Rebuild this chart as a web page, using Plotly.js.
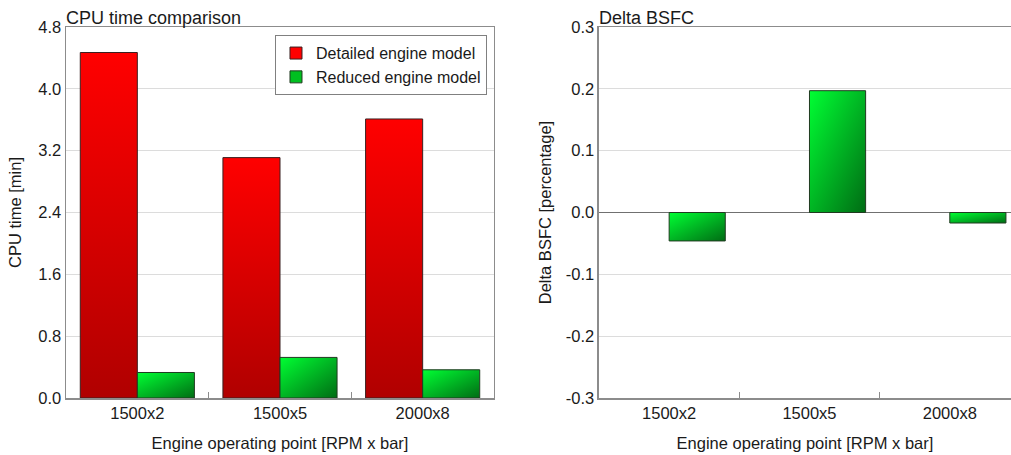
<!DOCTYPE html>
<html>
<head>
<meta charset="utf-8">
<script src="https://cdn.plot.ly/plotly-3.0.1.min.js"></script>
<style>
html,body{margin:0;padding:0;background:#fff;}
#chart{width:1011px;height:455px;}
</style>
</head>
<body>
<div id="chart"></div>
<script>
// ---- data ----
const categories = ["1500x2", "1500x5", "2000x8"];
const detailedCpu = [4.47, 3.11, 3.61];
const reducedCpu = [0.33, 0.525, 0.365];
const deltaBsfc = [-0.046, 0.197, -0.017];
const cpuTicks = [0, 0.8, 1.6, 2.4, 3.2, 4.0, 4.8];
const cpuTickText = ["0.0", "0.8", "1.6", "2.4", "3.2", "4.0", "4.8"];
const bsfcTicks = [-0.3, -0.2, -0.1, 0, 0.1, 0.2, 0.3];
const bsfcTickText = ["-0.3", "-0.2", "-0.1", "0.0", "0.1", "0.2", "0.3"];

const FONT = "Liberation Sans, Arial, sans-serif";
const TXT = "#1a1a1a";
const AX = "#8c8c8c";
const GRID = "#dcdcdc";
const FS = 16.5;

const traces = [
  {type: "bar", x: categories, y: detailedCpu, name: "Detailed engine model",
   xaxis: "x", yaxis: "y", offset: -0.4, width: 0.4,
   marker: {color: "#ff0000", line: {color: "#3a2020", width: 1}}},
  {type: "bar", x: categories, y: reducedCpu, name: "Reduced engine model",
   xaxis: "x", yaxis: "y", offset: 0, width: 0.4,
   marker: {color: "#00c020", line: {color: "#203a20", width: 1}}},
  {type: "bar", x: categories, y: deltaBsfc, name: "Delta BSFC", showlegend: false,
   xaxis: "x2", yaxis: "y2", offset: 0, width: 0.4,
   marker: {color: "#00c020", line: {color: "#203a20", width: 1}}}
];

const xCommon = {
  type: "category", showline: true, linecolor: AX, linewidth: 1.5, mirror: true,
  ticks: "inside", tickson: "boundaries", ticklen: 6, tickcolor: AX, tickwidth: 1,
  showgrid: false, zeroline: false,
  tickfont: {family: FONT, size: FS, color: TXT},
  title: {text: "Engine operating point [RPM x bar]", font: {family: FONT, size: FS, color: TXT}, standoff: 16}
};
const layout = {
  width: 1011, height: 455,
  margin: {l: 66, r: 0, t: 27, b: 57},
  paper_bgcolor: "#ffffff", plot_bgcolor: "#ffffff",
  font: {family: FONT, size: FS, color: TXT},
  barmode: "overlay",
  showlegend: true,
  legend: {x: 0.4455, xanchor: "right", y: 0.978, yanchor: "top",
    bordercolor: "#808080", borderwidth: 1, bgcolor: "#ffffff",
    font: {family: FONT, size: 16, color: TXT}, tracegroupgap: 0, itemwidth: 30},
  xaxis: Object.assign({}, xCommon, {domain: [0, 0.4529], anchor: "y", range: [-0.5, 2.5]}),
  yaxis: {domain: [0, 1], anchor: "x", range: [0, 4.8], tickvals: cpuTicks, ticktext: cpuTickText,
    showline: true, linecolor: AX, linewidth: 1.5, mirror: true, ticks: "",
    showgrid: true, gridcolor: GRID, gridwidth: 1, zeroline: false,
    tickfont: {family: FONT, size: FS, color: TXT},
    title: {text: "CPU time [min]", font: {family: FONT, size: FS, color: TXT}, standoff: 12}},
  xaxis2: Object.assign({}, xCommon, {domain: [0.564, 1], anchor: "y2", range: [-0.5, 2.436]}),
  yaxis2: {domain: [0, 1], anchor: "x2", range: [-0.3, 0.3], tickvals: bsfcTicks, ticktext: bsfcTickText,
    showline: true, linecolor: AX, linewidth: 1.5, mirror: true, ticks: "",
    showgrid: true, gridcolor: GRID, gridwidth: 1, zeroline: true, zerolinecolor: "#707070", zerolinewidth: 1,
    tickfont: {family: FONT, size: FS, color: TXT},
    title: {text: "Delta BSFC [percentage]", font: {family: FONT, size: FS, color: TXT}, standoff: 10}},
  annotations: [
    {text: "CPU time comparison", xref: "x domain", yref: "y domain", x: 0, y: 1,
     xanchor: "left", yanchor: "bottom", showarrow: false, yshift: -3, xshift: -2,
     font: {family: FONT, size: 18, color: TXT}},
    {text: "Delta BSFC", xref: "x2 domain", yref: "y2 domain", x: 0, y: 1,
     xanchor: "left", yanchor: "bottom", showarrow: false, yshift: -3, xshift: -2,
     font: {family: FONT, size: 18, color: TXT}}
  ]
};

Plotly.newPlot("chart", traces, layout, {staticPlot: true, displayModeBar: false}).then(function (gd) {
  const svg = gd.querySelector("svg.main-svg");
  const ns = "http://www.w3.org/2000/svg";
  let defs = svg.querySelector("defs");
  if (!defs) { defs = document.createElementNS(ns, "defs"); svg.insertBefore(defs, svg.firstChild); }
  function grad(id, x2, y2, stops) {
    const g = document.createElementNS(ns, "linearGradient");
    g.setAttribute("id", id);
    g.setAttribute("x1", "0"); g.setAttribute("y1", "0");
    g.setAttribute("x2", x2); g.setAttribute("y2", y2);
    stops.forEach(function (s) {
      const st = document.createElementNS(ns, "stop");
      st.setAttribute("offset", s[0]); st.setAttribute("stop-color", s[1]);
      g.appendChild(st);
    });
    defs.appendChild(g);
  }
  grad("gRed", "0", "1", [["0", "#ff0000"], ["1", "#b00000"]]);
  grad("gGreen", "1", "1", [["0", "#00ff33"], ["1", "#006c14"]]);
  const traceGroups = gd.querySelectorAll(".barlayer .trace.bars");
  traceGroups.forEach(function (tg, i) {
    const id = i === 0 ? "gRed" : "gGreen";
    tg.querySelectorAll(".point path").forEach(function (p) {
      p.style.fill = "url(#" + id + ")";
      p.style.fillOpacity = 1;
    });
  });
});
</script>
</body>
</html>
